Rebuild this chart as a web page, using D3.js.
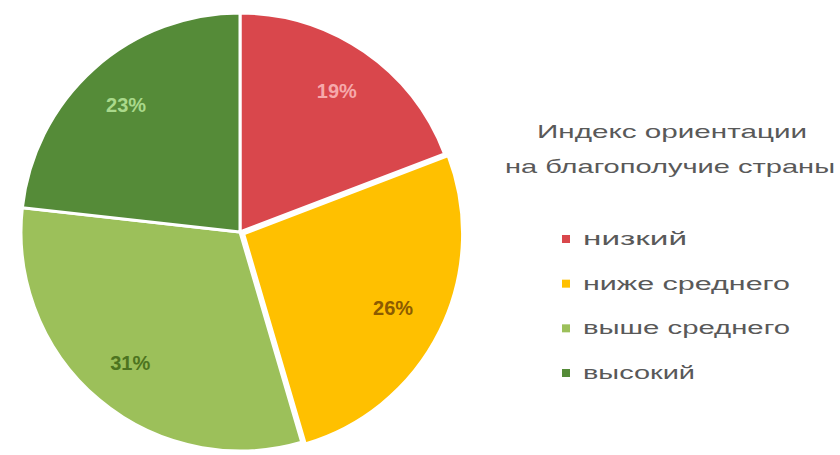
<!DOCTYPE html>
<html><head><meta charset="utf-8">
<script src="https://cdn.jsdelivr.net/npm/d3@7/dist/d3.min.js"></script>
<style>body{margin:0;background:#fff}svg{display:block}</style>
</head><body>
<svg id="c" width="840" height="455"></svg>
<script>
const categories = ["низкий", "ниже среднего", "выше среднего", "высокий"];
const values = [19, 26, 31, 23];
const labels = ["19%", "26%", "31%", "23%"];
const colors = ["#d9474c", "#ffc000", "#9cc05a", "#558b38"];
const labelColors = ["#f6a9ab", "#8c5b00", "#4d7420", "#a9d98b"];
const explode = [0, 4, 0, 0];
const titleLines = ["Индекс ориентации", "на благополучие страны"];

const svg = d3.select("#c");
const cx = 240, cy = 232, r = 219;
const pie = d3.pie().sort(null).value(d => d)(values);
const arc = d3.arc().innerRadius(0).outerRadius(r);
const labelArc = d3.arc().innerRadius(r * 0.78).outerRadius(r * 0.78);
const g = svg.append("g").attr("transform", `translate(${cx},${cy})`);
const off = (d, i) => {
  const a = (d.startAngle + d.endAngle) / 2;
  return [Math.sin(a) * explode[i], -Math.cos(a) * explode[i]];
};
g.selectAll("path").data(pie).join("path")
  .attr("transform", (d, i) => `translate(${off(d, i)})`)
  .attr("d", arc).attr("fill", (d, i) => colors[i])
  .attr("stroke", "#fff").attr("stroke-width", 3);
g.selectAll("text").data(pie).join("text")
  .attr("transform", d => `translate(${labelArc.centroid(d)})`)
  .attr("text-anchor", "middle").attr("dominant-baseline", "central")
  .attr("font-family", "Liberation Sans, Arial, sans-serif")
  .attr("font-size", 20).attr("font-weight", "bold")
  .attr("fill", (d, i) => labelColors[i])
  .text((d, i) => labels[i]);

// legend title
const tw = [270, 330], tx = [672, 670], ty = [131, 166];
titleLines.forEach((t, i) => {
  svg.append("text").attr("x", tx[i]).attr("y", ty[i])
    .attr("text-anchor", "middle").attr("dominant-baseline", "central")
    .attr("font-family", "Liberation Sans, Arial, sans-serif")
    .attr("font-size", 19).attr("fill", "#595959")
    .attr("textLength", tw[i]).attr("lengthAdjust", "spacingAndGlyphs")
    .text(t);
});
// legend items
const ly = d3.scalePoint().domain(categories).range([239, 373]);
const lw = [104, 207, 207, 112];
const items = svg.append("g").selectAll("g").data(categories).join("g")
  .attr("transform", d => `translate(562,${ly(d)})`);
items.append("rect").attr("x", 0).attr("y", -4).attr("width", 8).attr("height", 8)
  .attr("fill", (d, i) => colors[i]);
items.append("text").attr("x", 21).attr("y", 0).attr("dominant-baseline", "central")
  .attr("font-family", "Liberation Sans, Arial, sans-serif")
  .attr("font-size", 18).attr("fill", "#595959")
  .attr("textLength", (d, i) => lw[i]).attr("lengthAdjust", "spacingAndGlyphs")
  .text(d => d);
</script>
</body></html>
